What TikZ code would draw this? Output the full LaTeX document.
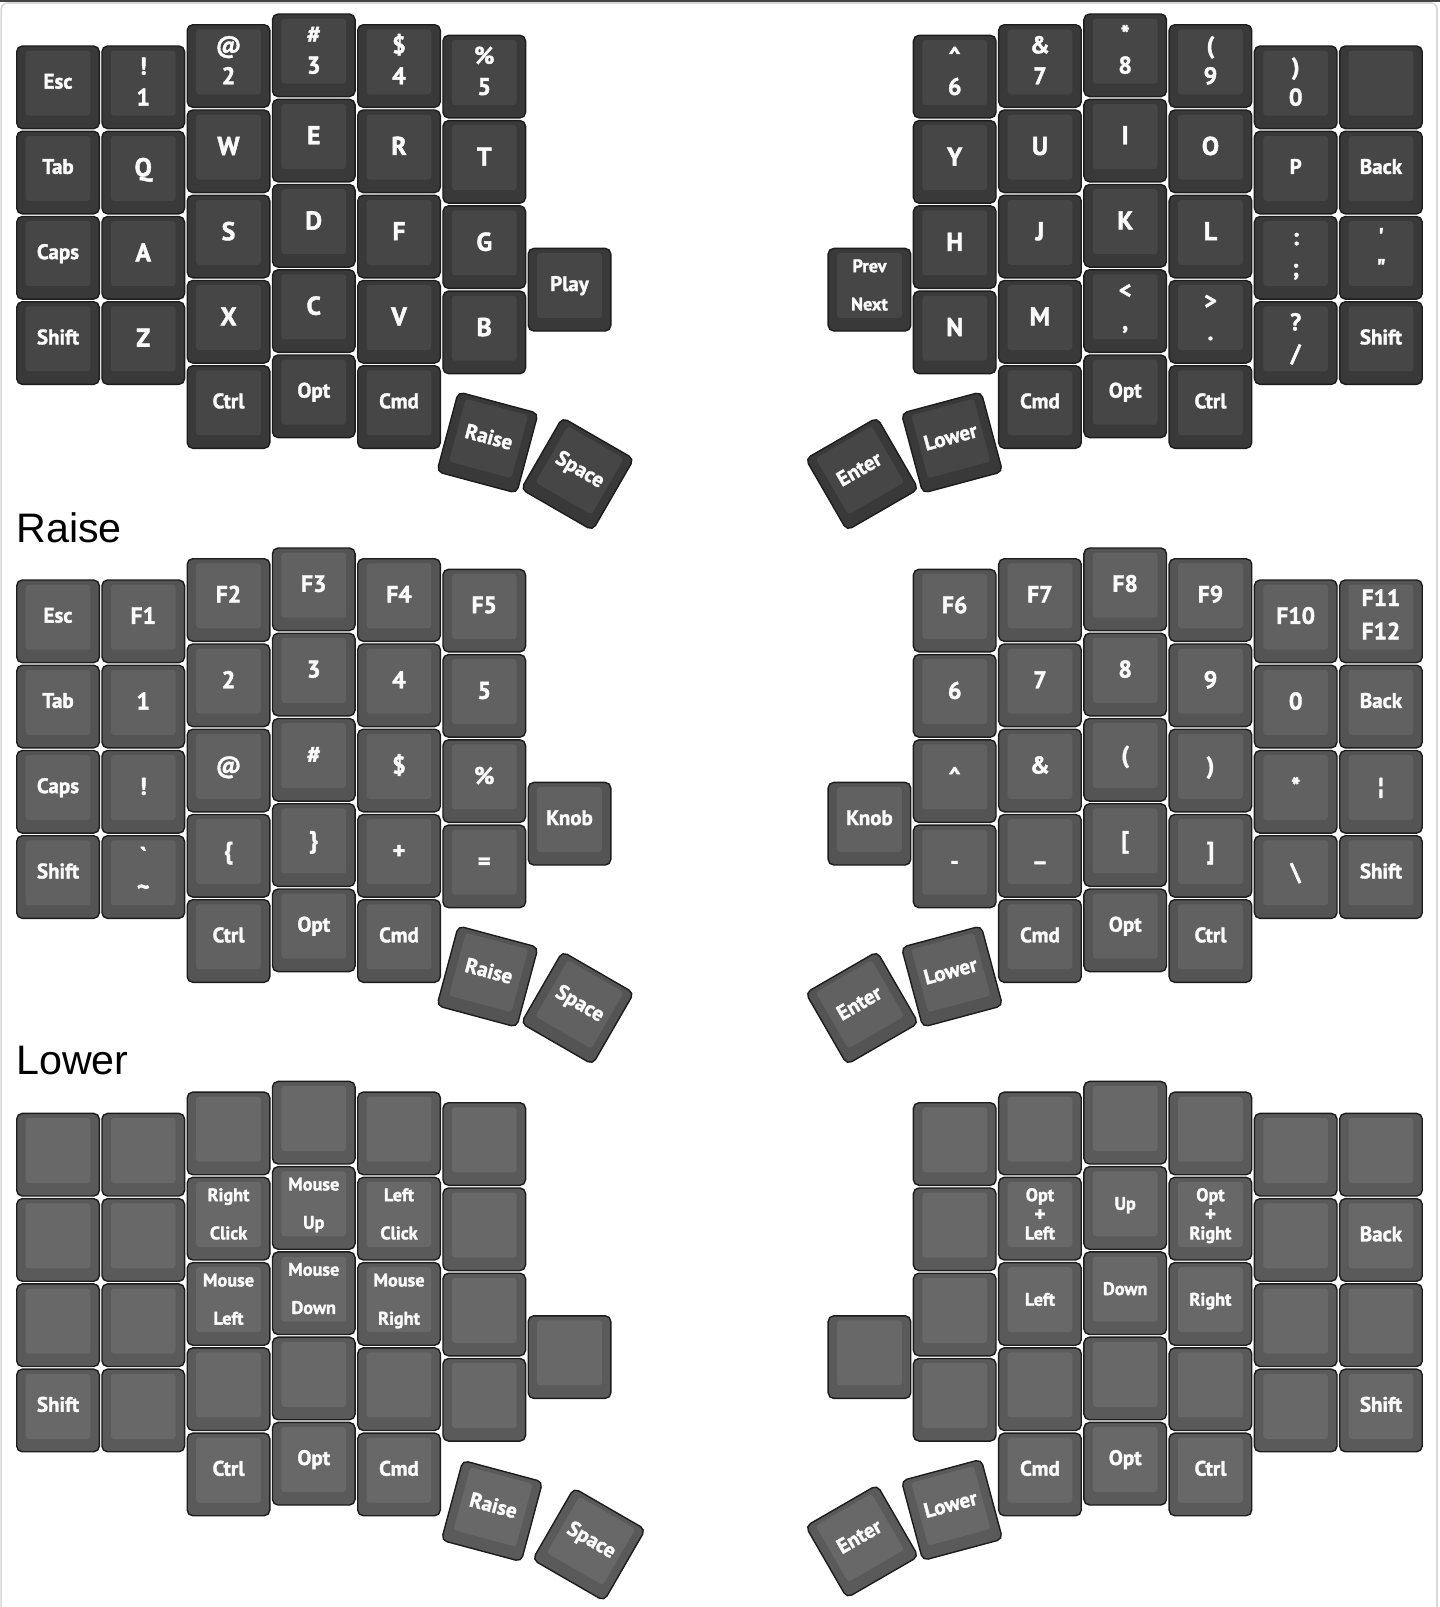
\documentclass[tikz,border=0pt]{standalone}
\usepackage{fontspec}
\newfontfamily\keyfont{PT Sans}[BoldFeatures={FakeBold=1.6}]
\newfontfamily\labfont{Liberation Sans}
\definecolor{kout0}{HTML}{393939}
\definecolor{kin0}{HTML}{464646}
\definecolor{kout1}{HTML}{545454}
\definecolor{kin1}{HTML}{616161}
\definecolor{kout2}{HTML}{5A5A5A}
\definecolor{kin2}{HTML}{686868}
\definecolor{keyborder}{HTML}{1C1C1C}
\definecolor{keytext}{HTML}{FAFAFA}
\definecolor{framelight}{HTML}{D8D8D8}
\definecolor{framedark}{HTML}{444444}
\newcommand\fBig{\keyfont\bfseries\fontsize{12.9}{14}\selectfont}
\newcommand\fNum{\keyfont\bfseries\fontsize{12.1}{14}\selectfont}
\newcommand\fWord{\keyfont\bfseries\fontsize{10.5}{12}\selectfont}
\newcommand\fSmall{\keyfont\bfseries\fontsize{9.1}{11}\selectfont}
\newcommand\fPlus{\keyfont\bfseries\fontsize{10.5}{11}\selectfont}
\newcommand\fFun{\keyfont\bfseries\fontsize{11.8}{13}\selectfont}
\tikzset{
  keycap/.style={rectangle,draw=keyborder,line width=0.7pt,rounded corners=2.8pt,
    minimum width=41.3pt,minimum height=41.3pt,inner sep=0pt,outer sep=0pt},
  ktext/.style={anchor=base,inner sep=0pt,text=keytext},
  lab/.style={anchor=base west,inner sep=0pt,font=\labfont\fontsize{20.6}{24}\selectfont,text=black}
}
% key: cx, cy, rotation, layer, name, legend
\newcommand\key[6]{%
  \begin{scope}[shift={(#1,#2)},rotate=#3,transform shape]
    \node[keycap,fill=kout#4] (#5) at (0,0) {};
    \fill[kin#4,rounded corners=1.5pt] (-32.3,-36.7) rectangle (32.3,28.3);
    \def\kn{#5}#6
  \end{scope}}
% grid key: column (0-13), row, legend
\newcommand\gk[3]{%
  \pgfmathsetmacro\gx{{16,101.25,186.5,271.75,357,442.25,527.5,827.45,912.7,997.95,1083.2,1168.45,1253.7,1338.95}[#1]+42}%
  \pgfmathsetmacro\gy{{45.3,45.3,24,13.3,24,34.6,247.7,247.7,34.6,24,13.3,24,45.3,45.3}[#1]+85.25*#2+42+\oy}%
  \key{\gx}{\gy}{0}{\ly}{L\ly-#1-#2}{#3}}
\newcommand\lgOne[3]{\node[ktext,font=#1] (\kn-t) at (0,#2) {#3};}
\newcommand\lgTwo[5]{\node[ktext,font=#1] (\kn-a) at (0,#2) {#4};\node[ktext,font=#1] (\kn-b) at (0,#3) {#5};}
\newcommand\lgW[1]{\lgOne{\fWord}{1.3}{#1}}
\newcommand\lgB[1]{\lgOne{\fBig}{3.7}{#1}}
\newcommand\lgN[1]{\lgOne{\fNum}{3.0}{#1}}
\newcommand\lgF[1]{\lgOne{\fFun}{2.5}{#1}}
\newcommand\lgL[1]{\lgOne{\fSmall}{1.8}{#1}}
\newcommand\lgT[2]{\lgTwo{\fNum}{-12.7}{18.3}{#1}{#2}}
\newcommand\lgS[2]{\lgTwo{\fSmall}{-17.5}{20.7}{#1}{#2}}
\newcommand\lgFF[2]{\lgTwo{\fFun}{-15.3}{18}{#1}{#2}}
\newcommand\lgH[3]{\node[ktext,font=\fSmall] (\kn-a) at (0,-17.5) {#1};\node[ktext,font=\fPlus] (\kn-b) at (0,2.5) {#2};\node[ktext,font=\fSmall] (\kn-c) at (0,20.7) {#3};}
\begin{document}
\begin{tikzpicture}[x=0.5pt,y=-0.5pt]
\useasboundingbox (0,0) rectangle (1440,1607);
\begin{scope}
  \clip (0,0) rectangle (1440,1607);
  \draw[framelight,line width=0.8pt,rounded corners=3pt] (1.3,3) rectangle (1437,1700);
\end{scope}
\fill[framedark] (0,0) rectangle (1440,1.7);

% ================= BASE LAYER =================
\def\ly{0}\def\oy{0}
\gk{0}{0}{\lgW{Esc}}
\gk{0}{1}{\lgW{Tab}}
\gk{0}{2}{\lgW{Caps}}
\gk{0}{3}{\lgW{Shift}}
\gk{1}{0}{\lgT{!}{1}}
\gk{1}{1}{\lgB{Q}}
\gk{1}{2}{\lgB{A}}
\gk{1}{3}{\lgB{Z}}
\gk{2}{0}{\lgT{@}{2}}
\gk{2}{1}{\lgB{W}}
\gk{2}{2}{\lgB{S}}
\gk{2}{3}{\lgB{X}}
\gk{2}{4}{\lgW{Ctrl}}
\gk{3}{0}{\lgT{\#}{3}}
\gk{3}{1}{\lgB{E}}
\gk{3}{2}{\lgB{D}}
\gk{3}{3}{\lgB{C}}
\gk{3}{4}{\lgW{Opt}}
\gk{4}{0}{\lgT{\$}{4}}
\gk{4}{1}{\lgB{R}}
\gk{4}{2}{\lgB{F}}
\gk{4}{3}{\lgB{V}}
\gk{4}{4}{\lgW{Cmd}}
\gk{5}{0}{\lgT{\%}{5}}
\gk{5}{1}{\lgB{T}}
\gk{5}{2}{\lgB{G}}
\gk{5}{3}{\lgB{B}}
\gk{6}{0}{\lgW{Play}}
\gk{7}{0}{\lgS{Prev}{Next}}
\gk{8}{0}{\lgT{\textasciicircum}{6}}
\gk{8}{1}{\lgB{Y}}
\gk{8}{2}{\lgB{H}}
\gk{8}{3}{\lgB{N}}
\gk{9}{0}{\lgT{\&}{7}}
\gk{9}{1}{\lgB{U}}
\gk{9}{2}{\lgB{J}}
\gk{9}{3}{\lgB{M}}
\gk{9}{4}{\lgW{Cmd}}
\gk{10}{0}{\lgT{*}{8}}
\gk{10}{1}{\lgB{I}}
\gk{10}{2}{\lgB{K}}
\gk{10}{3}{\lgT{<}{,}}
\gk{10}{4}{\lgW{Opt}}
\gk{11}{0}{\lgT{(}{9}}
\gk{11}{1}{\lgB{O}}
\gk{11}{2}{\lgB{L}}
\gk{11}{3}{\lgT{>}{.}}
\gk{11}{4}{\lgW{Ctrl}}
\gk{12}{0}{\lgT{)}{0}}
\gk{12}{1}{\lgW{P}}
\gk{12}{2}{\lgT{:}{;}}
\gk{12}{3}{\lgT{?}{/}}
\gk{13}{0}{}
\gk{13}{1}{\lgW{Back}}
\gk{13}{2}{\lgT{\textquotesingle}{\textquotedbl}}
\gk{13}{3}{\lgW{Shift}}
\key{487.5}{442.5}{-15}{0}{L0-raise}{\lgW{Raise}}
\key{577.5}{474}{-30}{0}{L0-space}{\lgW{Space}}
\key{862}{474}{30}{0}{L0-enter}{\lgW{Enter}}
\key{952}{442.5}{15}{0}{L0-lower}{\lgW{Lower}}

% ================= RAISE LAYER =================
\node[lab] (lab-raise) at (16,542) {Raise};
\def\ly{1}\def\oy{534}
\gk{0}{0}{\lgW{Esc}}
\gk{0}{1}{\lgW{Tab}}
\gk{0}{2}{\lgW{Caps}}
\gk{0}{3}{\lgW{Shift}}
\gk{1}{0}{\lgF{F1}}
\gk{1}{1}{\lgN{1}}
\gk{1}{2}{\lgN{!}}
\gk{1}{3}{\lgT{\textasciigrave}{\textasciitilde}}
\gk{2}{0}{\lgF{F2}}
\gk{2}{1}{\lgN{2}}
\gk{2}{2}{\lgN{@}}
\gk{2}{3}{\lgN{\{}}
\gk{2}{4}{\lgW{Ctrl}}
\gk{3}{0}{\lgF{F3}}
\gk{3}{1}{\lgN{3}}
\gk{3}{2}{\lgN{\#}}
\gk{3}{3}{\lgN{\}}}
\gk{3}{4}{\lgW{Opt}}
\gk{4}{0}{\lgF{F4}}
\gk{4}{1}{\lgN{4}}
\gk{4}{2}{\lgN{\$}}
\gk{4}{3}{\lgN{+}}
\gk{4}{4}{\lgW{Cmd}}
\gk{5}{0}{\lgF{F5}}
\gk{5}{1}{\lgN{5}}
\gk{5}{2}{\lgN{\%}}
\gk{5}{3}{\lgN{=}}
\gk{6}{0}{\lgW{Knob}}
\gk{7}{0}{\lgW{Knob}}
\gk{8}{0}{\lgF{F6}}
\gk{8}{1}{\lgN{6}}
\gk{8}{2}{\lgN{\textasciicircum}}
\gk{8}{3}{\lgN{-}}
\gk{9}{0}{\lgF{F7}}
\gk{9}{1}{\lgN{7}}
\gk{9}{2}{\lgN{\&}}
\gk{9}{3}{\lgN{\_}}
\gk{9}{4}{\lgW{Cmd}}
\gk{10}{0}{\lgF{F8}}
\gk{10}{1}{\lgN{8}}
\gk{10}{2}{\lgN{(}}
\gk{10}{3}{\lgN{[}}
\gk{10}{4}{\lgW{Opt}}
\gk{11}{0}{\lgF{F9}}
\gk{11}{1}{\lgN{9}}
\gk{11}{2}{\lgN{)}}
\gk{11}{3}{\lgN{]}}
\gk{11}{4}{\lgW{Ctrl}}
\gk{12}{0}{\lgF{F10}}
\gk{12}{1}{\lgN{0}}
\gk{12}{2}{\lgN{*}}
\gk{12}{3}{\lgN{\textbackslash}}
\gk{13}{0}{\lgFF{F11}{F12}}
\gk{13}{1}{\lgW{Back}}
\gk{13}{2}{\lgN{¦}}
\gk{13}{3}{\lgW{Shift}}
\key{487.5}{442.5+\oy}{-15}{1}{L1-raise}{\lgW{Raise}}
\key{577.5}{474+\oy}{-30}{1}{L1-space}{\lgW{Space}}
\key{862}{474+\oy}{30}{1}{L1-enter}{\lgW{Enter}}
\key{952}{442.5+\oy}{15}{1}{L1-lower}{\lgW{Lower}}

% ================= LOWER LAYER =================
\node[lab] (lab-lower) at (16,1074) {Lower};
\def\ly{2}\def\oy{1067.4}
\gk{0}{0}{}
\gk{0}{1}{}
\gk{0}{2}{}
\gk{0}{3}{\lgW{Shift}}
\gk{1}{0}{}
\gk{1}{1}{}
\gk{1}{2}{}
\gk{1}{3}{}
\gk{2}{0}{}
\gk{2}{1}{\lgS{Right}{Click}}
\gk{2}{2}{\lgS{Mouse}{Left}}
\gk{2}{3}{}
\gk{2}{4}{\lgW{Ctrl}}
\gk{3}{0}{}
\gk{3}{1}{\lgS{Mouse}{Up}}
\gk{3}{2}{\lgS{Mouse}{Down}}
\gk{3}{3}{}
\gk{3}{4}{\lgW{Opt}}
\gk{4}{0}{}
\gk{4}{1}{\lgS{Left}{Click}}
\gk{4}{2}{\lgS{Mouse}{Right}}
\gk{4}{3}{}
\gk{4}{4}{\lgW{Cmd}}
\gk{5}{0}{}
\gk{5}{1}{}
\gk{5}{2}{}
\gk{5}{3}{}
\gk{6}{0}{}
\gk{7}{0}{}
\gk{8}{0}{}
\gk{8}{1}{}
\gk{8}{2}{}
\gk{8}{3}{}
\gk{9}{0}{}
\gk{9}{1}{\lgH{Opt}{+}{Left}}
\gk{9}{2}{\lgL{Left}}
\gk{9}{3}{}
\gk{9}{4}{\lgW{Cmd}}
\gk{10}{0}{}
\gk{10}{1}{\lgL{Up}}
\gk{10}{2}{\lgL{Down}}
\gk{10}{3}{}
\gk{10}{4}{\lgW{Opt}}
\gk{11}{0}{}
\gk{11}{1}{\lgH{Opt}{+}{Right}}
\gk{11}{2}{\lgL{Right}}
\gk{11}{3}{}
\gk{11}{4}{\lgW{Ctrl}}
\gk{12}{0}{}
\gk{12}{1}{}
\gk{12}{2}{}
\gk{12}{3}{}
\gk{13}{0}{}
\gk{13}{1}{\lgW{Back}}
\gk{13}{2}{}
\gk{13}{3}{\lgW{Shift}}
\key{492}{1511}{-15}{2}{L2-raise}{\lgW{Raise}}
\key{589}{1544.5}{-30}{2}{L2-space}{\lgW{Space}}
\key{862}{1541.4}{30}{2}{L2-enter}{\lgW{Enter}}
\key{952}{1509.9}{15}{2}{L2-lower}{\lgW{Lower}}
\end{tikzpicture}
\end{document}
